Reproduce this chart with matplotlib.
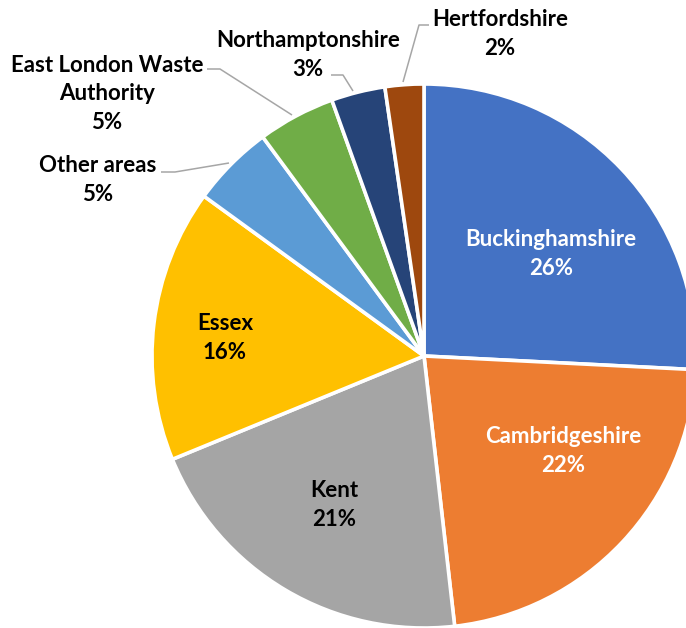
import matplotlib
matplotlib.use("Agg")
import matplotlib.pyplot as plt

categories = ["Buckinghamshire", "Cambridgeshire", "Kent", "Essex",
              "Other areas", "East London Waste\nAuthority", "Northamptonshire", "Hertfordshire"]
values = [25.8, 22.4, 20.6, 16.2, 4.9, 4.6, 3.2, 2.3]
colors = ["#4472C4", "#ED7D31", "#A5A5A5", "#FFC000",
          "#5B9BD5", "#70AD47", "#264478", "#9E480E"]

W, H = 686, 628
CX, CY, R = 424, 356, 272

plt.rcParams['font.family'] = ['Lato', 'DejaVu Sans']

fig = plt.figure(figsize=(W / 100, H / 100), dpi=100)
ax = fig.add_axes([0, 0, 1, 1])
ax.pie(values, colors=colors, startangle=90, counterclock=False,
       wedgeprops=dict(edgecolor="white", linewidth=2.6), radius=1.0)
ax.set_xlim(-CX / R, (W - CX) / R)
ax.set_ylim(-(H - CY) / R, CY / R)
ax.set_aspect('auto')
ax.axis('off')


def px(x, y):
    return ((x - CX) / R, (CY - y) / R)


total = sum(values)
pct = [f"{round(v / total * 100):.0f}%" for v in values]

# label anchor positions (pixel coords of label centre)
label_pos = [(551, 254), (563, 451), (334, 505), (225, 338),
             (98, 180), (107, 94), (308, 55), (500, 34)]
text_colors = ["white", "white", "black", "black", "black", "black", "black", "black"]

fs = 16
for cat, p, pos, tc in zip(categories, pct, label_pos, text_colors):
    ax.text(*px(*pos), f"{cat}\n{p}", ha="center", va="center", fontsize=fs,
            fontweight="bold", color=tc, linespacing=1.42)

# leader lines
leaders = [
    [(161, 172), (175, 172), (229, 163)],
    [(207, 69), (220, 69), (292, 115)],
    [(331, 75), (343, 75), (353, 91)],
    [(429, 25), (419, 25), (403, 82)],
]
for pts in leaders:
    xs, ys = zip(*[px(*p) for p in pts])
    ax.plot(xs, ys, color="#A6A6A6", lw=1.1, solid_capstyle="butt")

fig.savefig("out.png", dpi=100)
